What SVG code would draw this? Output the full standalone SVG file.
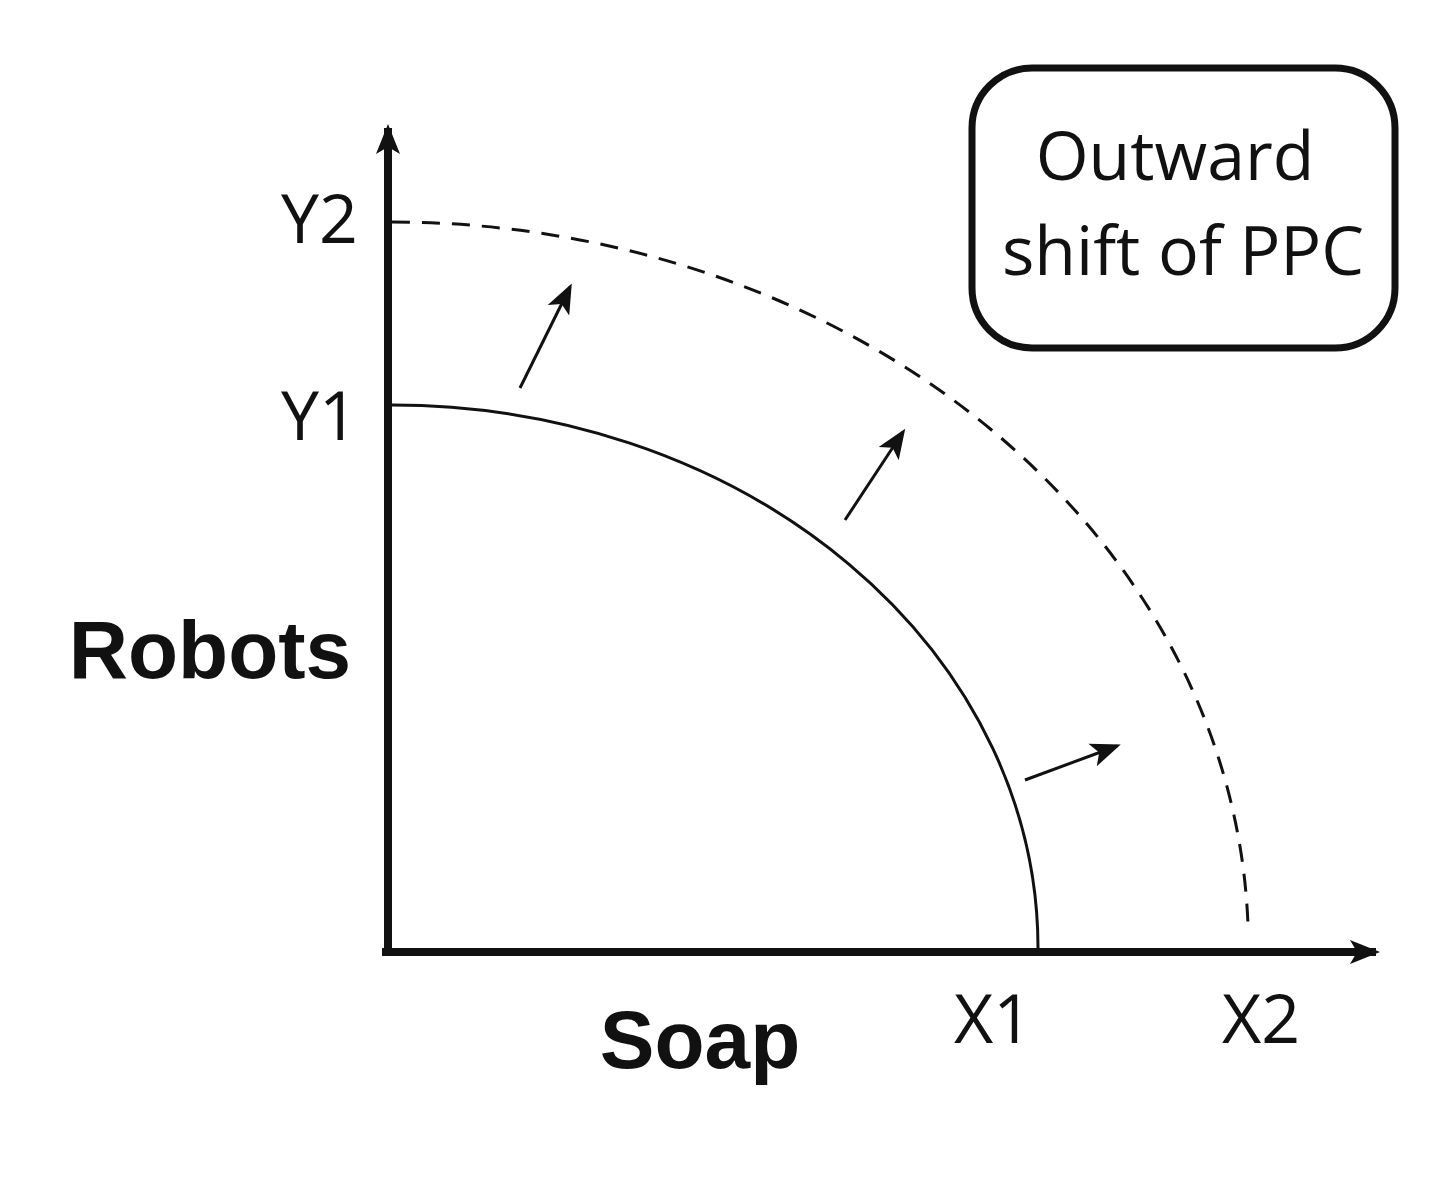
<svg xmlns="http://www.w3.org/2000/svg" width="1440" height="1180" viewBox="0 0 1440 1180">
<style>
.lbl{font-family:"Open Sans","Liberation Sans",sans-serif;font-size:68px;fill:#111}
.ax{font-family:"Liberation Sans",sans-serif;font-weight:bold;font-size:82px;fill:#111}
.sm{stroke:#111;stroke-width:3;fill:none}
</style>
<defs>
<marker id="ah" markerWidth="10" markerHeight="10" refX="8" refY="5" orient="auto" markerUnits="userSpaceOnUse" viewBox="0 0 10 10">
<path d="M0,0 L10,5 L0,10 L3,5 Z" fill="#111"/>
</marker>
<marker id="big" markerWidth="30" markerHeight="30" refX="26" refY="15" orient="auto" markerUnits="userSpaceOnUse" viewBox="0 0 30 30">
<path d="M0,3 L30,15 L0,27 L7,15 Z" fill="#111"/>
</marker>
</defs>
<rect width="1440" height="1180" fill="#fff"/>
<g id="connectors">
<path d="M388,955 V128" stroke="#111" stroke-width="8" fill="none" marker-end="url(#big)"/>
<path d="M382,952 H1376" stroke="#111" stroke-width="8" fill="none" marker-end="url(#big)"/>
<path d="M392,405 A646,543 0 0 1 1038,948" class="sm" stroke-width="2"/>
<path d="M392,222 A858,726 0 0 1 1248,925" class="sm" stroke-dasharray="18,12"/>
<line x1="520" y1="388" x2="570" y2="287" class="sm" marker-end="url(#big)"/>
<line x1="845" y1="520" x2="903" y2="432" class="sm" marker-end="url(#big)"/>
<line x1="1025" y1="780" x2="1117" y2="746" class="sm" marker-end="url(#big)"/>
</g>
<g id="note">
<rect x="972" y="68" width="423" height="280" rx="60" fill="none" stroke="#111" stroke-width="7"/>
<text class="lbl" x="1175" y="180" text-anchor="middle">Outward</text>
<text class="lbl" x="1183" y="275" text-anchor="middle">shift of PPC</text>
</g>
<g id="labels">
<text class="lbl" x="358" y="243" text-anchor="end">Y2</text>
<text class="lbl" x="358" y="440" text-anchor="end">Y1</text>
<text class="lbl" x="993" y="1043" text-anchor="middle">X1</text>
<text class="lbl" x="1261" y="1043" text-anchor="middle">X2</text>
<text class="ax" x="210" y="678" text-anchor="middle">Robots</text>
<text class="ax" x="700" y="1068" text-anchor="middle">Soap</text>
</g>
</svg>
